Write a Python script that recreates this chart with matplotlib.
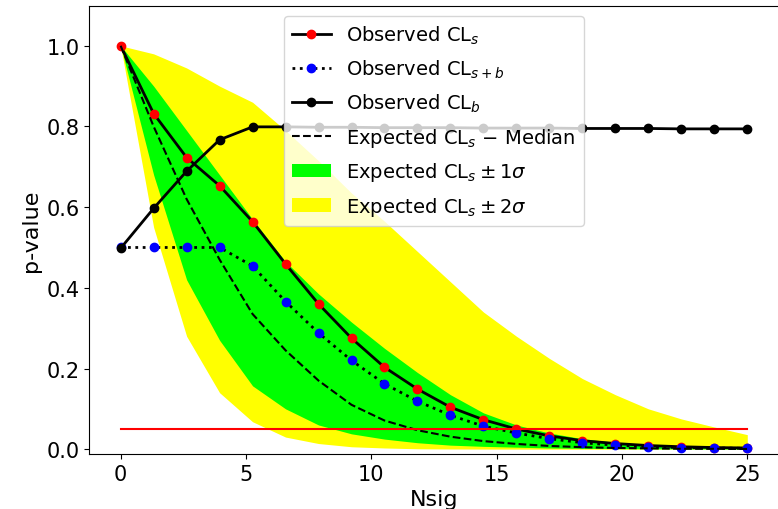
import numpy as np
import matplotlib
matplotlib.use("Agg")
import matplotlib.pyplot as plt

nsig = np.linspace(0, 25, 20)

obs_cls = [1.0, 0.832, 0.723, 0.653, 0.564, 0.459, 0.360, 0.275, 0.203, 0.149,
           0.104, 0.073, 0.050, 0.033, 0.021, 0.014, 0.009, 0.006, 0.004, 0.003]
obs_clsb = [0.5, 0.5, 0.5, 0.5, 0.454, 0.366, 0.288, 0.220, 0.162, 0.119,
            0.084, 0.057, 0.040, 0.026, 0.016, 0.010, 0.006, 0.004, 0.003, 0.002]
obs_clb = [0.498, 0.597, 0.689, 0.767, 0.799, 0.799, 0.798, 0.798, 0.797, 0.797,
           0.797, 0.796, 0.796, 0.796, 0.795, 0.795, 0.795, 0.794, 0.794, 0.794]
exp_median = [1.0, 0.80, 0.62, 0.47, 0.335, 0.245, 0.170, 0.110, 0.071, 0.047,
              0.031, 0.020, 0.013, 0.008, 0.005, 0.003, 0.002, 0.001, 0.001, 0.0005]
exp_m1 = [1.0, 0.68, 0.42, 0.27, 0.157, 0.10, 0.060, 0.038, 0.025, 0.016,
          0.010, 0.007, 0.005, 0.003, 0.002, 0.0015, 0.001, 0.0007, 0.0005, 0.0003]
exp_p1 = [1.0, 0.90, 0.79, 0.68, 0.57, 0.465, 0.385, 0.315, 0.25, 0.19,
          0.135, 0.09, 0.06, 0.04, 0.026, 0.017, 0.011, 0.007, 0.005, 0.003]
exp_m2 = [1.0, 0.55, 0.28, 0.14, 0.068, 0.030, 0.014, 0.006, 0.003, 0.001,
          0.0005, 0.0003, 0.0002, 0.0001, 0.0, 0.0, 0.0, 0.0, 0.0, 0.0]
exp_p2 = [1.0, 0.98, 0.945, 0.90, 0.86, 0.79, 0.715, 0.635, 0.565, 0.49,
          0.415, 0.34, 0.28, 0.225, 0.175, 0.135, 0.10, 0.075, 0.055, 0.036]
alpha_level = 0.05

fig = plt.figure(figsize=(7.78, 5.10), dpi=100)
ax = fig.add_axes([0.1148, 0.1078, 0.886, 0.878])

l1, = ax.plot(nsig, obs_cls, 'k-', marker='o', mfc='red', mec='red', ms=6, lw=2,
              label=r'Observed CL$_s$')
l2, = ax.plot(nsig, obs_clsb, 'k:', marker='o', mfc='blue', mec='blue', ms=6, lw=2,
              label=r'Observed CL$_{s+b}$')
l3, = ax.plot(nsig, obs_clb, 'k-', marker='o', mfc='black', mec='black', ms=6, lw=2,
              label=r'Observed CL$_b$')
l4, = ax.plot(nsig, exp_median, 'k--', lw=1.5, label=r'Expected CL$_s$ $-$ Median')
f1 = ax.fill_between(nsig, exp_m1, exp_p1, color='#00ff00', lw=0, zorder=1,
                     label=r'Expected CL$_s\pm1\sigma$')
f2 = ax.fill_between(nsig, exp_m2, exp_p2, color='#ffff00', lw=0, zorder=0.5,
                     label=r'Expected CL$_s\pm2\sigma$')
ax.plot(nsig, [alpha_level] * len(nsig), 'r-', lw=1.5)

ax.set_xlim(-1.25, 26.25)
ax.set_ylim(-0.012, 1.098)
ax.set_xlabel('Nsig', fontsize=16)
ax.set_ylabel('p-value', fontsize=16)
ax.tick_params(labelsize=15)
ax.legend(handles=[l1, l2, l3, l4, f1, f2], loc='upper center', fontsize=14,
          labelspacing=0.6)

fig.savefig('out.png', dpi=100)
